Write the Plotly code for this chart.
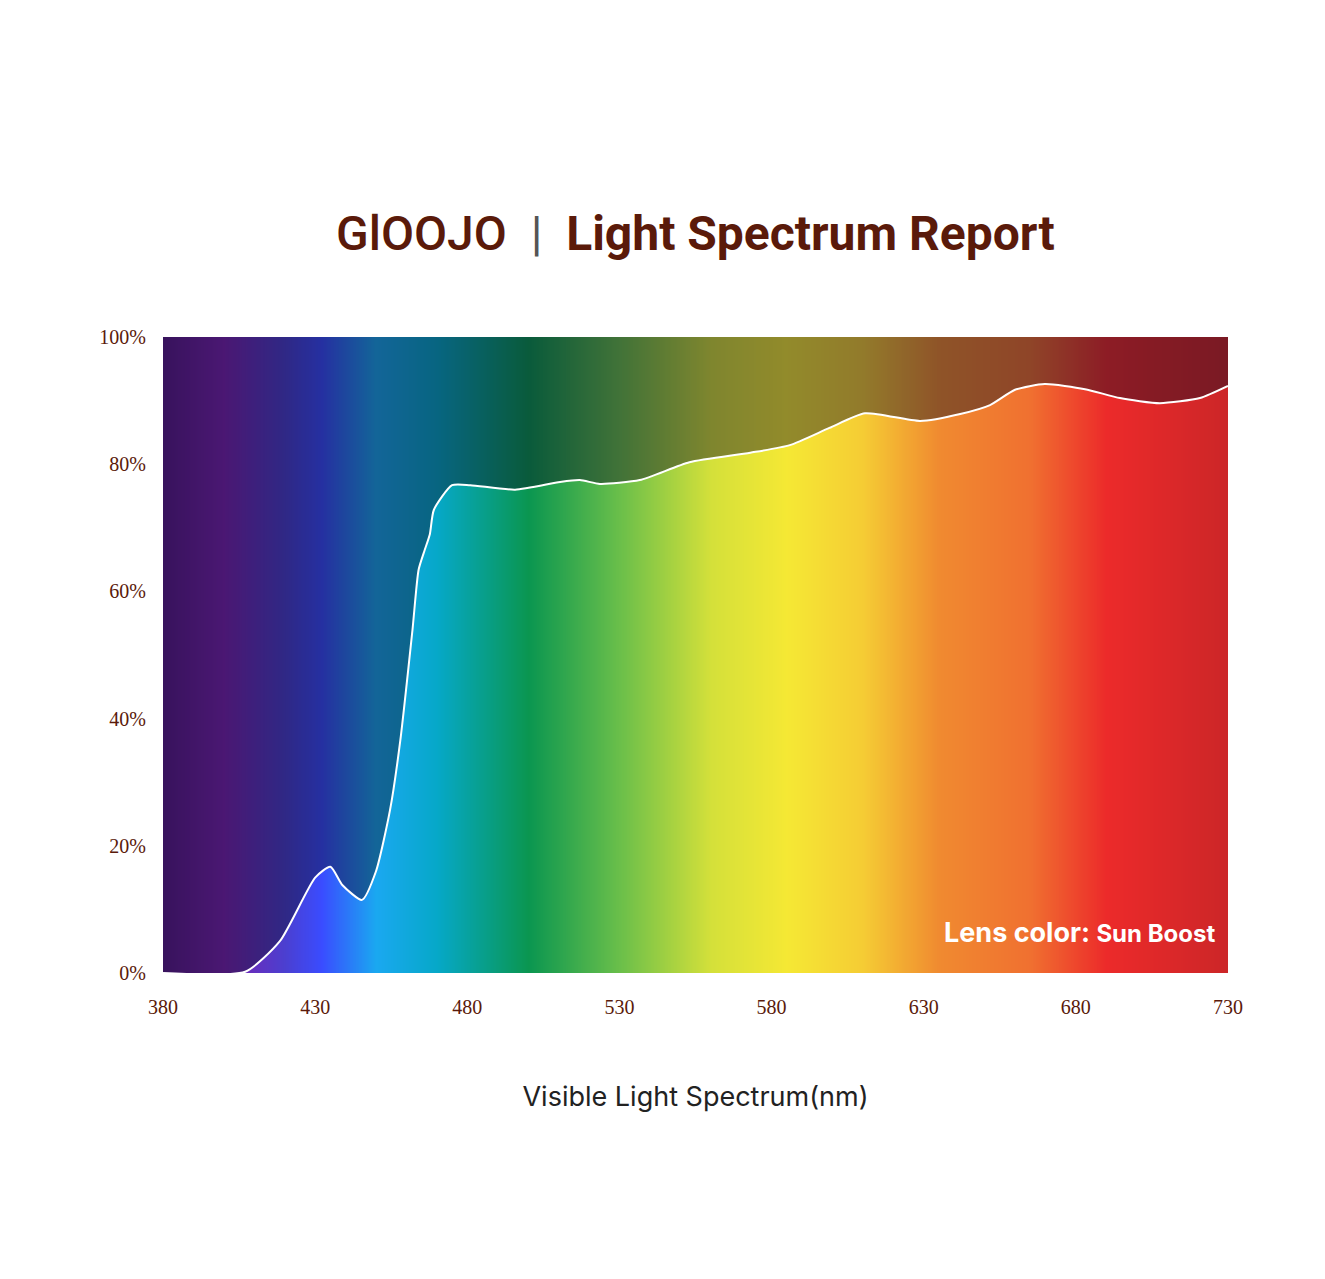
import numpy as np
import plotly.graph_objects as go

# transmission curve
wavelength = [380, 407, 418.4, 430, 435, 439, 445.4, 450, 454.6, 458, 462, 464, 466, 467.7, 469,
              475, 481, 495.7, 510.5, 517, 523.6, 536.7, 553, 573, 586, 599, 610.7, 628.8, 642,
              651.8, 660, 669.8, 683, 694.5, 707.6, 720.8, 730]
transmission = [0, 0.2, 5, 15, 16.7, 13.8, 11.5, 16, 25.6, 36.6, 54, 63.4, 66.5, 69, 72.8,
                76.7, 76.7, 76, 77.2, 77.5, 76.9, 77.5, 80.3, 81.8, 83, 85.7, 88, 86.8, 87.9,
                89.3, 91.7, 92.6, 91.8, 90.4, 89.6, 90.4, 92.3]

tick_vals = [380, 430, 480, 530, 580, 630, 680, 730]
y_ticks = [0, 20, 40, 60, 80, 100]
y_labels = ["0%", "20%", "40%", "60%", "80%", "100%"]

spectrum_stops = [(380, "#5a1a8a"), (400, "#7a22b0"), (420, "#4b3fd0"), (432, "#3a4cff"),
                  (450, "#1aa8f0"), (470, "#06a8c8"), (500, "#0a9650"), (530, "#6abf4a"),
                  (560, "#d4e03a"), (585, "#f5e834"), (610, "#f5cc34"), (635, "#f08a30"),
                  (665, "#f07030"), (690, "#ec2a2a"), (730, "#cc2628")]
colorscale = [[(w - 380) / 350, c] for w, c in spectrum_stops]

brown = "#5a1a0a"
grid_x = np.linspace(380, 730, 701)

fig = go.Figure()
fig.add_trace(go.Heatmap(x=grid_x, y=[0, 100], z=[grid_x, grid_x], colorscale=colorscale,
                         showscale=False, hoverinfo="skip", zsmooth="best"))
fig.add_trace(go.Scatter(x=wavelength, y=[100] * len(wavelength), mode="lines",
                         line=dict(width=0), showlegend=False, hoverinfo="skip"))
fig.add_trace(go.Scatter(x=wavelength, y=transmission, mode="lines", fill="tonexty",
                         fillcolor="rgba(10,10,30,0.42)",
                         line=dict(color="white", width=2, shape="spline", smoothing=0.6),
                         showlegend=False))

fig.add_annotation(x=0.5, y=1.21, xref="paper", yref="paper", showarrow=False,
                   text="<span style='font-weight:500'>GlOOJO</span>"
                        "<span style='font-size:48px;color:#555'>  |  </span>"
                        "<b>Light Spectrum Report</b>",
                   font=dict(family="Roboto", size=48, color=brown))
fig.add_annotation(x=0.99, y=0.035, xref="paper", yref="paper", xanchor="right", yanchor="bottom",
                   showarrow=False, text="<b>Lens color: <span style='font-size:24px'>Sun Boost</span></b>",
                   font=dict(family="Inter", size=27, color="white"))

fig.update_layout(
    width=1325, height=1279, plot_bgcolor="white", paper_bgcolor="white",
    margin=dict(l=155, r=105, t=329, b=314, autoexpand=False),
    xaxis=dict(range=[380, 730], tickvals=tick_vals, showgrid=False, zeroline=False,
               ticks="", ticklabelstandoff=20, automargin=False,
               tickfont=dict(family="Liberation Serif", size=20, color=brown),
               title=dict(text="Visible Light Spectrum(nm)", standoff=70,
                          font=dict(family="Inter", size=27, color="#222"))),
    yaxis=dict(range=[0, 100], tickvals=y_ticks, ticktext=y_labels, showgrid=False, zeroline=False,
               automargin=False,
               tickfont=dict(family="Liberation Serif", size=20, color=brown), ticklabelstandoff=16),
)

fig.write_html("out.html")
